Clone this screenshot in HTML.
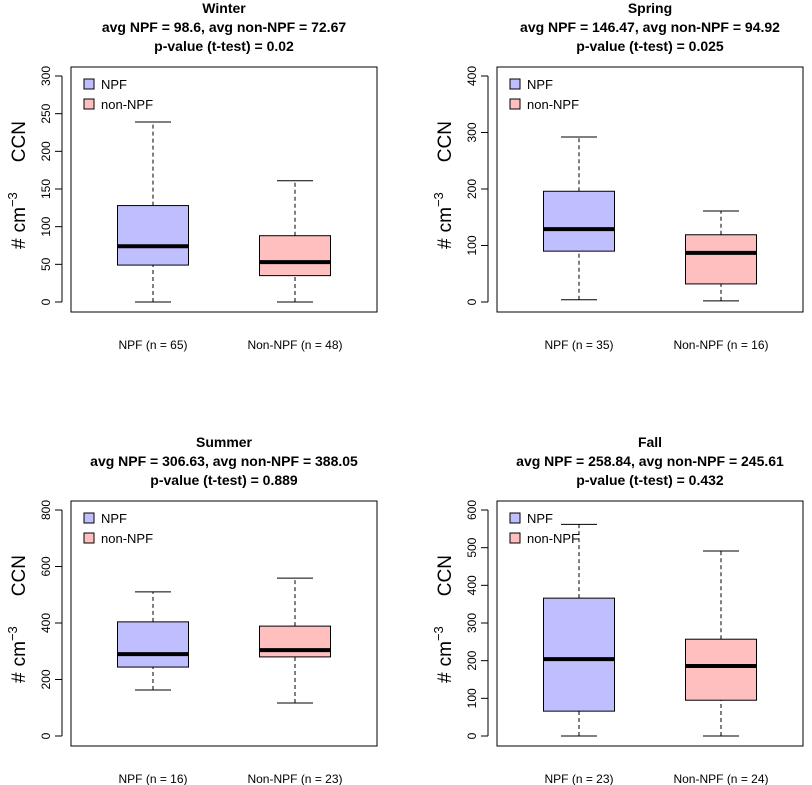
<!DOCTYPE html>
<html><head><meta charset="utf-8"><style>
body{margin:0;background:#fff;}
svg{display:block;font-family:"Liberation Sans",Arial,sans-serif;}
</style></head><body>
<svg id="chart" width="812" height="785" viewBox="0 0 812 785" xmlns="http://www.w3.org/2000/svg"></svg>
<script>
const seasons = ["Winter","Spring","Summer","Fall"];
const subtitle1 = ["avg NPF = 98.6, avg non-NPF = 72.67","avg NPF = 146.47, avg non-NPF = 94.92","avg NPF = 306.63, avg non-NPF = 388.05","avg NPF = 258.84, avg non-NPF = 245.61"];
const subtitle2 = ["p-value (t-test) = 0.02","p-value (t-test) = 0.025","p-value (t-test) = 0.889","p-value (t-test) = 0.432"];
const npfN = [65,35,16,23];
const nonN = [48,16,23,24];
// [low, q1, median, q3, high]
const npfStats = [[0,49,74,128,239],[4,90,129,196,292],[163,244,290,404,510],[0,66,204,366,562]];
const nonStats = [[0,35,53,88,161],[2,32,87,119,161],[117,280,304,389,559],[0,95,186,257,491]];
const yTicks = [[0,50,100,150,200,250,300],[0,100,200,300,400],[0,200,400,600,800],[0,100,200,300,400,500,600]];
const yMax = [300,400,800,600];

const svg = document.getElementById('chart');
const NS = "http://www.w3.org/2000/svg";
function mk(tag, attrs, text){
  const e = document.createElementNS(NS, tag);
  for (const k in attrs) e.setAttribute(k, attrs[k]);
  if (text !== undefined) e.textContent = text;
  svg.appendChild(e);
  return e;
}
const panels = [{x0:71,y0:67},{x0:497,y0:67},{x0:71,y0:501},{x0:497,y0:501}];
panels.forEach((p, i) => {
  const W = 306, H = 245;
  const yBot = p.y0 + 235, yTop = p.y0 + 9;
  const y = v => yBot - (v / yMax[i]) * (yBot - yTop);
  const cx = [p.x0 + 82, p.x0 + 224];
  const tcx = p.x0 + W / 2;
  let t;
  t = mk('text', {x: tcx, y: p.y0 - 54, 'text-anchor':'middle', 'font-size':14, 'font-weight':'bold'}, seasons[i]);
  
  
  t = mk('text', {x: tcx, y: p.y0 - 35, 'text-anchor':'middle', 'font-size':14, 'font-weight':'bold'}, subtitle1[i]);
  
  
  t = mk('text', {x: tcx, y: p.y0 - 16, 'text-anchor':'middle', 'font-size':14, 'font-weight':'bold'}, subtitle2[i]);
  
  
  const frame = mk('rect', {x:p.x0, y:p.y0, width:W, height:H, fill:'none', stroke:'#000', 'stroke-width':1});
  
  
  const ax = p.x0 - 9;
  const ticks = yTicks[i];
  mk('line', {x1:ax, x2:ax, y1:y(ticks[0]), y2:y(ticks[ticks.length-1]), stroke:'#000'});
  ticks.forEach(v => {
    mk('line', {x1:ax-7, x2:ax, y1:y(v), y2:y(v), stroke:'#000'});
    const tl = mk('text', {x:ax-12, y:y(v), 'text-anchor':'middle', 'font-size':12, transform:`rotate(-90 ${ax-12} ${y(v)})`}, v);
    
    
  });
  const ly = p.y0 + 118, lx = p.x0 - 46;
  const yl = mk('text', {x:lx, y:ly, 'text-anchor':'middle', 'font-size':19, transform:`rotate(-90 ${lx} ${ly})`});
  
  
  yl.innerHTML = '#<tspan dx="6">cm</tspan><tspan font-size="13" dy="-8">−3</tspan><tspan dy="8" dx="30">CCN</tspan>';
  const labs = [`NPF (n = ${npfN[i]})`, `Non-NPF (n = ${nonN[i]})`];
  [npfStats[i], nonStats[i]].forEach((s, j) => {
    const c = cx[j], bw = 35.5, cw = 18;
    const fill = j === 0 ? '#bfbfff' : '#ffbfbf';
    const name = j === 0 ? 'npf' : 'non-npf';
    let e = mk('line', {x1:c, x2:c, y1:y(s[0]), y2:y(s[1]), stroke:'#000', 'stroke-dasharray':'4,3'});
    
    
    e = mk('line', {x1:c, x2:c, y1:y(s[3]), y2:y(s[4]), stroke:'#000', 'stroke-dasharray':'4,3'});
    
    
    mk('line', {x1:c-cw, x2:c+cw, y1:y(s[0]), y2:y(s[0]), stroke:'#000'});
    mk('line', {x1:c-cw, x2:c+cw, y1:y(s[4]), y2:y(s[4]), stroke:'#000'});
    e = mk('rect', {x:c-bw, y:y(s[3]), width:2*bw, height:y(s[1])-y(s[3]), fill:fill, stroke:'#000'});
    
    
    e = mk('line', {x1:c-bw, x2:c+bw, y1:y(s[2]), y2:y(s[2]), stroke:'#000', 'stroke-width':4});
    
    
    e = mk('text', {x:c, y:p.y0 + 282, 'text-anchor':'middle', 'font-size':12}, labs[j]);
    
    
  });
  [['NPF','#bfbfff'],['non-NPF','#ffbfbf']].forEach((l, j) => {
    const yy = p.y0 + 12 + j * 20;
    let e = mk('rect', {x:p.x0+13, y:yy, width:10, height:10, fill:l[1], stroke:'#000'});
    
    
    e = mk('text', {x:p.x0+30, y:yy+10, 'font-size':13}, l[0]);
    
    
  });
});
</script>
</body></html>
